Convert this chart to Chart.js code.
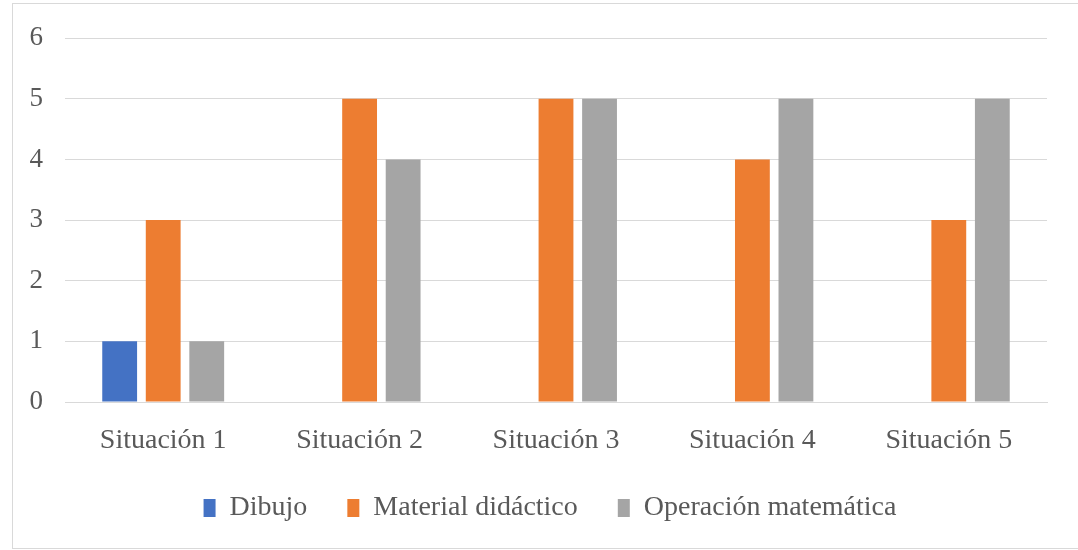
<!DOCTYPE html>
<html>
<head>
<meta charset="utf-8">
<script src="https://cdn.jsdelivr.net/npm/chart.js@4.4.1/dist/chart.umd.min.js"></script>
<style>
  html, body { margin: 0; padding: 0; background: #fff; }
  #wrap { position: relative; width: 1078px; height: 550px; overflow: hidden; }
  #frame { position: absolute; left: 12px; top: 3px; width: 1070px; height: 546px; border: 1px solid #d9d9d9; box-sizing: border-box; }
  canvas { position: absolute; left: 0; top: 0; }
</style>
</head>
<body>
<div id="wrap">
  <div id="frame"></div>
  <canvas id="chart" width="1078" height="550"></canvas>
</div>
<script>
// ==========================
// DATA
// ==========================
const categories = ["Situación 1", "Situación 2", "Situación 3", "Situación 4", "Situación 5"];
const dibujo = [1, 0, 0, 0, 0];
const material = [3, 5, 5, 4, 3];
const operacion = [1, 4, 5, 5, 5];
const yTicks = [0, 1, 2, 3, 4, 5, 6];

const textColor = "#595959";
const gridColor = "#d9d9d9";
const fontFamily = "'Liberation Serif', 'Times New Roman', serif";

// ==========================
// CHART
// ==========================
const ctx = document.getElementById("chart").getContext("2d");

new Chart(ctx, {
  type: "bar",
  data: {
    labels: categories,
    datasets: [
      { label: "Dibujo", data: dibujo, backgroundColor: "#4472C4" },
      { label: "Material didáctico", data: material, backgroundColor: "#ED7D31" },
      { label: "Operación matemática", data: operacion, backgroundColor: "#A5A5A5" }
    ]
  },
  options: {
    responsive: false,
    animation: false,
    datasets: {
      bar: { categoryPercentage: 0.665, barPercentage: 0.8 }
    },
    layout: { padding: { top: 37, right: 0, left: 22, bottom: 18 } },
    plugins: {
      tooltip: { enabled: false },
      legend: {
        position: "bottom",
        labels: {
          color: textColor,
          font: { family: fontFamily, size: 28 },
          boxWidth: 12,
          boxHeight: 18,
          padding: 40
        }
      }
    },
    scales: {
      x: {
        grid: { display: false },
        border: { color: gridColor, width: 1 },
        ticks: { color: textColor, font: { family: fontFamily, size: 28 }, padding: 14 },
        afterFit: scale => { scale.height = 52; }
      },
      y: {
        min: 0,
        max: 6,
        afterBuildTicks: scale => { scale.ticks = yTicks.map(v => ({ value: v })); },
        grid: { color: gridColor, lineWidth: 1, drawTicks: false },
        border: { display: false },
        ticks: { color: textColor, font: { family: fontFamily, size: 27 }, padding: 22 },
        afterFit: scale => { scale.width = 43; }
      },
      // empty right spacer so the plot ends where the reference does
      yRight: {
        position: "right",
        grid: { display: false },
        border: { display: false },
        ticks: { display: false },
        afterFit: scale => { scale.width = 31; }
      }
    }
  }
});
</script>
</body>
</html>
